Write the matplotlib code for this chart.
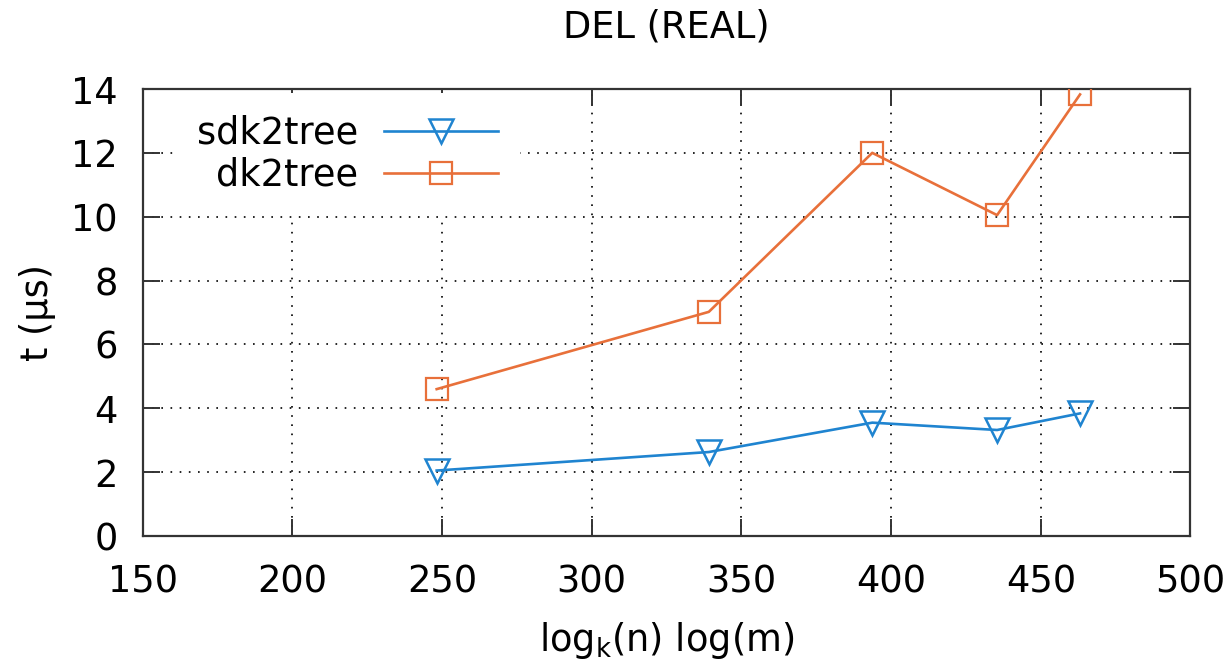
import matplotlib
matplotlib.use("Agg")
import matplotlib.pyplot as plt

# x = log_k(n) * log(m) for each real dataset, y = mean deletion time in microseconds
x_vals = [248.2, 339.1, 393.7, 435.4, 463.1]
sdk2tree_t = [2.05, 2.63, 3.55, 3.32, 3.84]
dk2tree_t = [4.6, 7.02, 12.0, 10.05, 13.83]

x_ticks = [150, 200, 250, 300, 350, 400, 450, 500]
y_ticks = [0, 2, 4, 6, 8, 10, 12, 14]

plt.rcParams["font.family"] = ["DejaVu Sans"]
plt.rcParams["mathtext.default"] = "regular"

FS = 26.5
BLUE = "#1f84d0"
ORANGE = "#e8703a"

fig = plt.figure(figsize=(12.32, 6.71), dpi=100)
ax = fig.add_axes([142.7 / 1232, 1 - 536 / 671, (1190.5 - 142.7) / 1232, (536 - 89) / 671])

ax.plot(x_vals, sdk2tree_t, color=BLUE, lw=1.9, marker="v", ms=17,
        mfc="none", mec=BLUE, mew=1.8, label="sdk2tree", zorder=3)
ax.plot(x_vals, dk2tree_t, color=ORANGE, lw=1.9, marker="s", ms=16,
        mfc="none", mec=ORANGE, mew=1.6, label="dk2tree", zorder=3)

ax.set_xlim(150, 500)
ax.set_ylim(0, 14)
ax.set_xticks(x_ticks)
ax.set_yticks(y_ticks)
ax.tick_params(direction="in", length=12, width=1.4, top=True, right=True,
               labelsize=FS, color="#333333")
ax.tick_params(axis="x", pad=20)
ax.tick_params(axis="y", pad=18)
for s in ax.spines.values():
    s.set_linewidth(1.6)
    s.set_color("#333333")

ax.grid(True, color="black", linestyle=(0, (1, 4.5)), linewidth=1.2)
ax.set_axisbelow(True)

ax.set_title("DEL (REAL)", fontsize=FS, pad=37)
ax.set_xlabel(r"log$_{k}$(n) log(m)", fontsize=FS, labelpad=14)
ax.set_ylabel("t (μs)", fontsize=FS, labelpad=11)

leg = ax.legend(loc="upper right", bbox_to_anchor=(0.36, 0.992), markerfirst=False,
                fontsize=FS, frameon=True, fancybox=False, framealpha=1,
                edgecolor="none", facecolor="white", handlelength=3.1,
                handletextpad=0.7, labelspacing=0.13, borderpad=0.6,
                borderaxespad=0)
leg.set_zorder(2)

fig.savefig("out.png", dpi=100)
